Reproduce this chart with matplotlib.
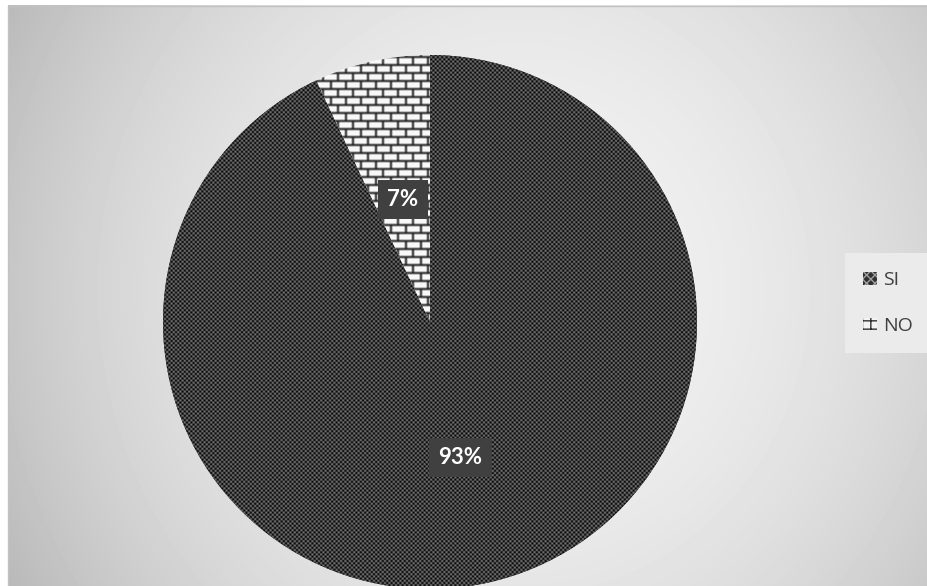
import numpy as np
import matplotlib.pyplot as plt
from matplotlib.patches import Patch, Rectangle

labels = ['SI', 'NO']
values = [93, 7]

W, H = 927, 586
plt.rcParams['font.family'] = ['Lato', 'DejaVu Sans']

fig = plt.figure(figsize=(W / 100, H / 100), dpi=100)
ax = fig.add_axes([0, 0, 1, 1])

# soft grey background, lighter towards the middle
yy, xx = np.mgrid[0:H, 0:W] + 0.5
dx = (xx - 520) / 460
dy = (yy - 290) / 290
grad = 0.95 - 0.14 * dx ** 2 - 0.05 * dy ** 2
ax.imshow(grad[5:, 8:], cmap='gray', vmin=0, vmax=1, extent=(8, W, 0, H - 5),
          interpolation='bilinear', zorder=0)
ax.add_patch(Rectangle((8.5, -2), W, H - 5.5 + 2, fill=False, ec='#c2c2c2', lw=1, zorder=1))

cx, cy, r = 430, H - 322, 267
wedges, texts, autotexts = ax.pie(
    values, center=(cx, cy), radius=r, startangle=90, counterclock=False,
    colors=['#3a3a3a', 'white'], wedgeprops=dict(linewidth=0),
    autopct='%1.0f%%', pctdistance=0.5, frame=True,
    textprops=dict(color='white', fontsize=16, fontweight='bold'))

# textures: dotted checker for SI, brick for NO
checker = 0.24 + 0.22 * np.cos(2 * np.pi * xx / 4.4) * np.cos(2 * np.pi * yy / 4.4)

row = np.floor(yy / 8)
ry = yy % 8
rx = (xx + (row % 2) * 7.5) % 15
brick = np.where((ry < 2) | (rx < 2), 0.12, 0.97)
brick = 0.25 * np.roll(brick, 1, 0) + 0.5 * brick + 0.25 * np.roll(brick, -1, 0)
brick = 0.25 * np.roll(brick, 1, 1) + 0.5 * brick + 0.25 * np.roll(brick, -1, 1)

for w, tex in zip(wedges, [checker, brick]):
    im = ax.imshow(tex, cmap='gray', vmin=0, vmax=1, extent=(0, W, 0, H),
                   interpolation='nearest', zorder=2)
    im.set_clip_path(w)

# percentage labels in dark boxes, placed along each wedge's middle angle
for w, t, dist in zip(wedges, autotexts, [0.52, 0.47]):
    ang = np.deg2rad((w.theta1 + w.theta2) / 2)
    t.set_position((cx + dist * r * np.cos(ang), cy + dist * r * np.sin(ang)))
    t.set_zorder(5)
    t.set_bbox(dict(boxstyle='square,pad=0.42', fc='#404040', ec='none'))

ax.set_xlim(0, W)
ax.set_ylim(0, H)
ax.set_aspect('auto')
ax.axis('off')

handles = [Patch(facecolor='#303030', edgecolor='#a0a0a0', hatch='xxxx', lw=0),
           Patch(facecolor='#f4f4f4', edgecolor='#303030', hatch='++', lw=0)]
leg = fig.legend(handles, labels, loc='upper left', bbox_to_anchor=(845 / W, 1 - 253 / H),
                 frameon=True, facecolor='#ebebeb', edgecolor='none', framealpha=1,
                 fancybox=False, handlelength=0.72, handleheight=0.6, handletextpad=0.3,
                 labelspacing=1.4, borderpad=0.95, borderaxespad=0,
                 prop=dict(family='Open Sans', size=14), labelcolor='#404040')

fig.savefig('out.png', dpi=100, facecolor='white')
